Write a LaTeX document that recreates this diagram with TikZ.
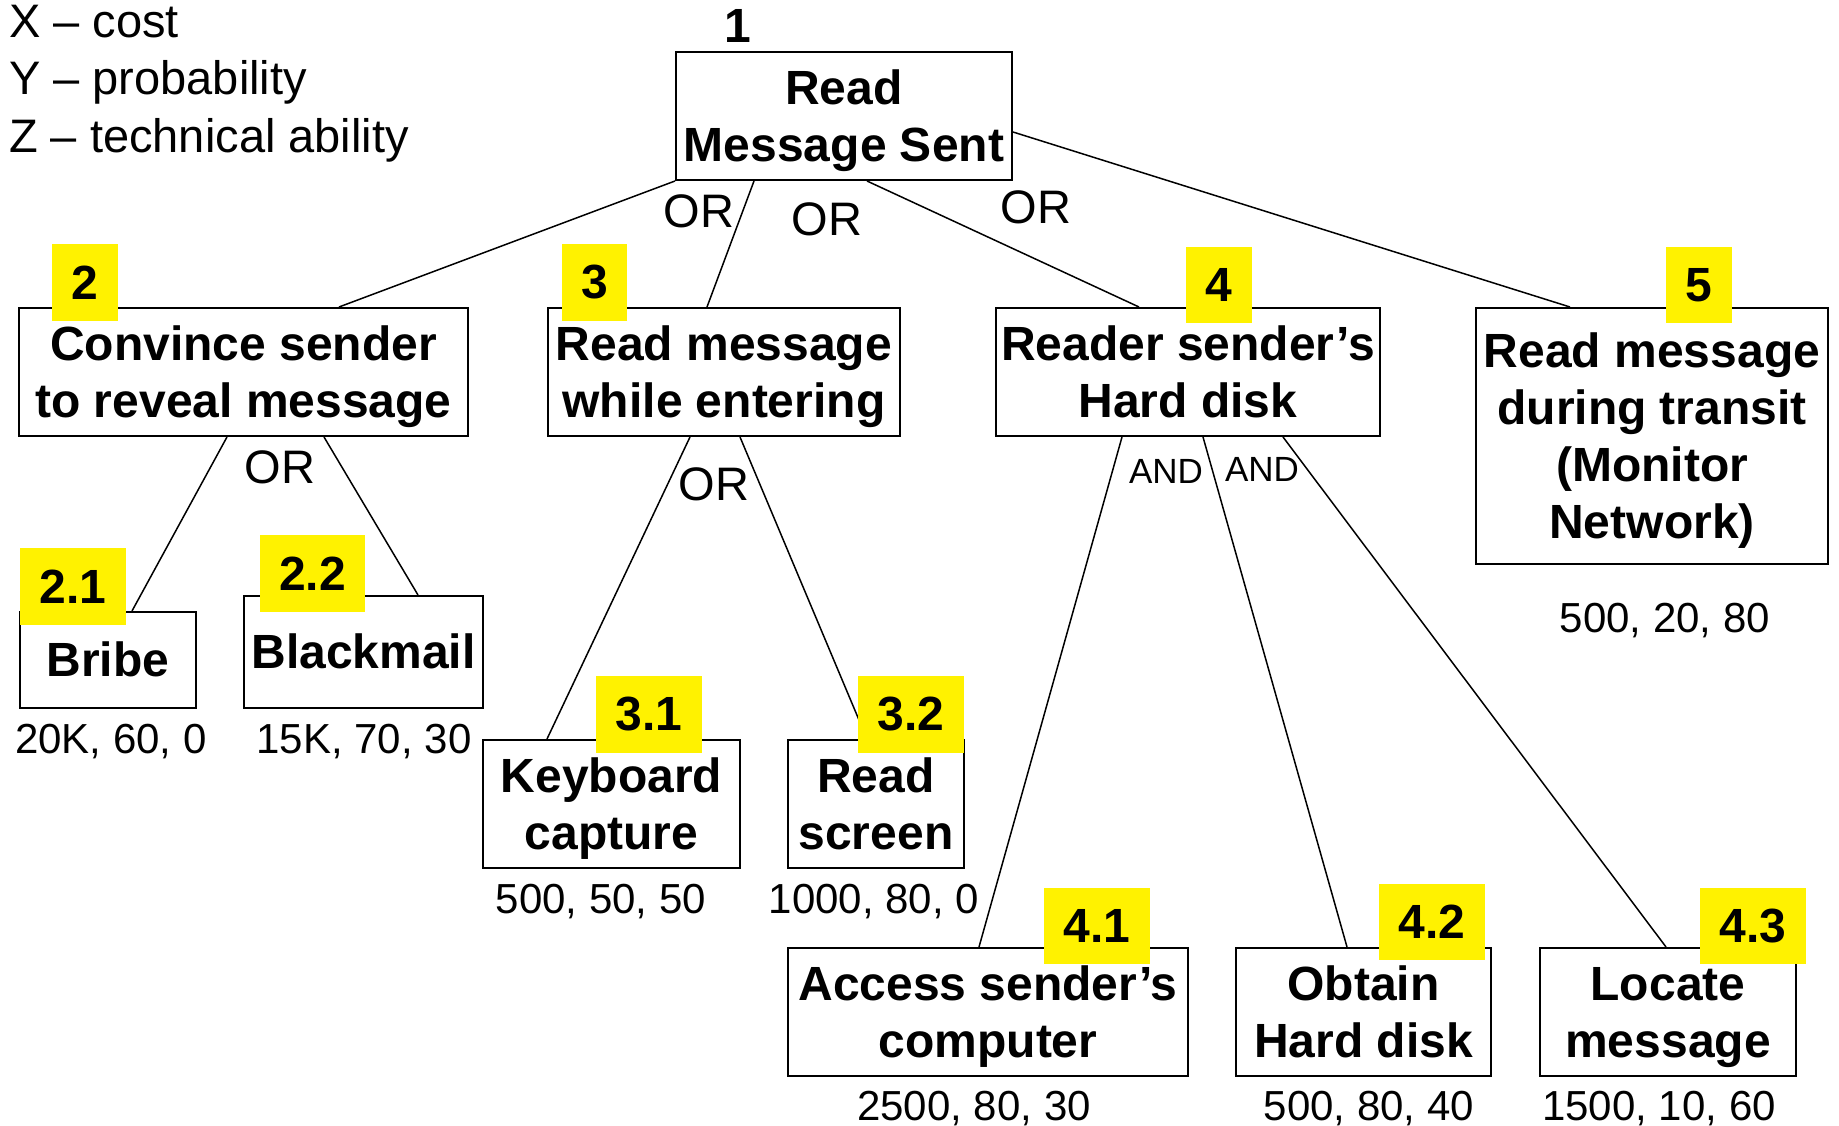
\documentclass[tikz,border=0pt]{standalone}
\usepackage{fontspec}
\setmainfont{Liberation Sans}
% fixed line metrics for the goal boxes
\newcommand\bxl{\rule[-10.5pt]{0pt}{54.5pt}}
\begin{document}
\begin{tikzpicture}[x=1pt,y=-1pt,
  box/.style={draw, line width=2pt, inner sep=0pt, align=center,
    font=\fontsize{48}{57}\selectfont\bfseries},
  tag/.style={fill=yellow, inner sep=0pt,
    font=\fontsize{48}{57}\selectfont\bfseries},
  gate/.style={anchor=base, inner sep=0pt, font=\fontsize{47}{56}\selectfont},
  andgate/.style={anchor=base, inner sep=0pt, font=\fontsize{35}{42}\selectfont},
  cost/.style={anchor=base, inner sep=0pt, font=\fontsize{42}{50}\selectfont},
  legend/.style={anchor=base west, inner sep=0pt, font=\fontsize{47}{56}\selectfont},
  link/.style={line width=1.5pt}]
\useasboundingbox (0,0) rectangle (1839,1126);

% legend
\node[legend] (lx) at (9,38)  {X – cost};
\node[legend] (ly) at (9,95)  {Y – probability};
\node[legend] (lz) at (9,153) {Z – technical ability};

% goal boxes
\node[box, minimum width=336pt, minimum height=128pt] (g1)  at (844,116)    {\bxl Read\\\bxl Message Sent};
\node[box, minimum width=449pt, minimum height=128pt] (g2)  at (243.5,372)  {\bxl Convince sender\\\bxl to reveal message};
\node[box, minimum width=352pt, minimum height=128pt] (g3)  at (724,372)    {\bxl Read message\\\bxl while entering};
\node[box, minimum width=384pt, minimum height=128pt] (g4)  at (1188,372)   {\bxl Reader sender’s\\\bxl Hard disk};
\node[box, minimum width=352pt, minimum height=256pt] (g5)  at (1652,436)   {\bxl Read message\\\bxl during transit\\\bxl (Monitor\\\bxl Network)};
\node[box, minimum width=176pt, minimum height=96pt]  (g21) at (108,660)    {\bxl Bribe};
\node[box, minimum width=239pt, minimum height=112pt] (g22) at (363.5,652)  {\bxl Blackmail};
\node[box, minimum width=257pt, minimum height=128pt] (g31) at (611.5,804)  {\bxl Keyboard\\\bxl capture};
\node[box, minimum width=176pt, minimum height=128pt] (g32) at (876,804)    {\bxl Read\\\bxl screen};
\node[box, minimum width=400pt, minimum height=128pt] (g41) at (988,1012)   {\bxl Access sender’s\\\bxl computer};
\node[box, minimum width=255pt, minimum height=128pt] (g42) at (1363.5,1012) {\bxl Obtain\\\bxl Hard disk};
\node[box, minimum width=256pt, minimum height=128pt] (g43) at (1668,1012)  {\bxl Locate\\\bxl message};

% tree connectors
\draw[link] (g1.south west) -- ([xshift=321pt]g2.north west);
\draw[link] ([xshift=79pt]g1.south west) -- ([xshift=160pt]g3.north west);
\draw[link] ([xshift=192pt]g1.south west) -- ([xshift=144pt]g4.north west);
\draw[link] ([yshift=-16pt]g1.east) -- ([xshift=95pt]g5.north west);
\draw[link] ([xshift=209pt]g2.south west) -- ([xshift=113pt]g21.north west);
\draw[link] ([xshift=306pt]g2.south west) -- ([xshift=175pt]g22.north west);
\draw[link] ([xshift=143pt]g3.south west) -- ([xshift=65pt]g31.north west);
\draw[link] ([xshift=193pt]g3.south west) -- ([xshift=80pt]g32.north west);
\draw[link] ([xshift=127pt]g4.south west) -- ([xshift=192pt]g41.north west);
\draw[link] ([xshift=208pt]g4.south west) -- ([xshift=112pt]g42.north west);
\draw[link] ([xshift=288pt]g4.south west) -- ([xshift=127pt]g43.north west);

% gate labels
\node[gate] (o1) at (699,228) {OR};
\node[gate] (o2) at (827,236) {OR};
\node[gate] (o3) at (1036,224) {OR};
\node[gate] (o4) at (280,483) {OR};
\node[gate] (o5) at (714,500) {OR};
\node[andgate] (a1) at (1166,483) {AND};
\node[andgate] (a2) at (1262,481) {AND};

% numbering
\node[anchor=base, inner sep=0pt, font=\fontsize{48}{57}\selectfont\bfseries] (t1) at (738,43) {1};
\node[tag, minimum width=66pt,  minimum height=77pt] (t2)  at (85,282.5)   {2};
\node[tag, minimum width=65pt,  minimum height=77pt] (t3)  at (594.5,282.5) {3};
\node[tag, minimum width=66pt,  minimum height=76pt] (t4)  at (1219,285)   {4};
\node[tag, minimum width=66pt,  minimum height=76pt] (t5)  at (1699,285)   {5};
\node[tag, minimum width=106pt, minimum height=77pt] (t21) at (73,586.5)   {2.1};
\node[tag, minimum width=105pt, minimum height=77pt] (t22) at (312.5,573.5) {2.2};
\node[tag, minimum width=106pt, minimum height=77pt] (t31) at (649,714.5)  {3.1};
\node[tag, minimum width=106pt, minimum height=77pt] (t32) at (911,714.5)  {3.2};
\node[tag, minimum width=106pt, minimum height=76pt] (t41) at (1097,926)   {4.1};
\node[tag, minimum width=106pt, minimum height=76pt] (t42) at (1432,922)   {4.2};
\node[tag, minimum width=106pt, minimum height=76pt] (t43) at (1753,926)   {4.3};

% cost, probability, ability values
\node[cost] (c21) at (111,753)  {20K, 60, 0};
\node[cost] (c22) at (364,753)  {15K, 70, 30};
\node[cost] (c31) at (601,913)  {500, 50, 50};
\node[cost] (c32) at (874,913)  {1000, 80, 0};
\node[cost] (c5)  at (1665,632) {500, 20, 80};
\node[cost] (c41) at (974,1120) {2500, 80, 30};
\node[cost] (c42) at (1369,1120) {500, 80, 40};
\node[cost] (c43) at (1659,1120) {1500, 10, 60};
\end{tikzpicture}
\end{document}
